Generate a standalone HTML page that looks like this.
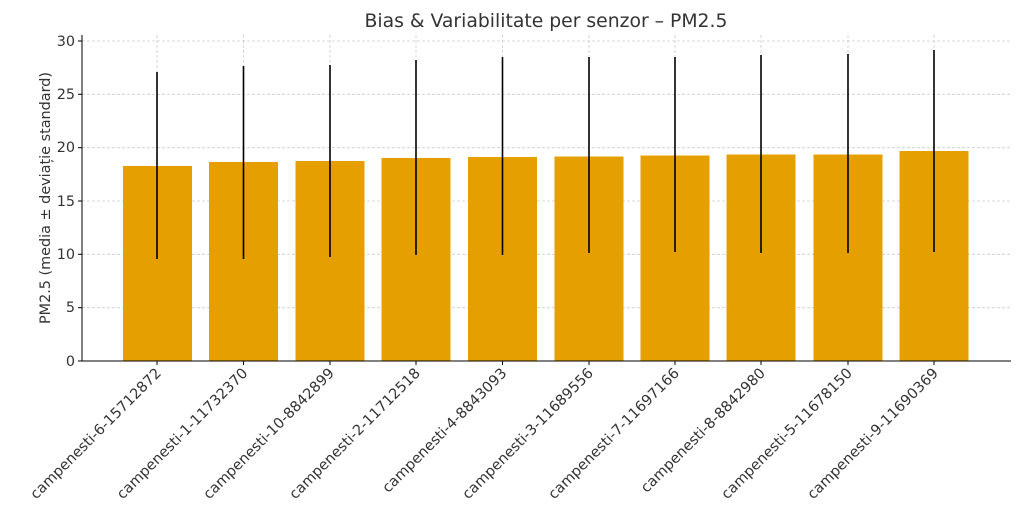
<!DOCTYPE html>
<html><head><meta charset="utf-8"><style>body{margin:0;background:#fff}svg{display:block}</style></head><body>
<svg width="1024" height="512" xmlns="http://www.w3.org/2000/svg" font-family="DejaVu Sans, sans-serif">
<rect width="1024" height="512" fill="#fff"/>
<text x="546" y="27" text-anchor="middle" font-size="18.8" fill="#333">Bias &amp; Variabilitate per senzor – PM2.5</text>
<g stroke="#ccc" stroke-width="0.8" stroke-dasharray="3,2">
<line x1="82" x2="1011" y1="41" y2="41"/><line x1="82" x2="1011" y1="94.3" y2="94.3"/><line x1="82" x2="1011" y1="147.7" y2="147.7"/><line x1="82" x2="1011" y1="201" y2="201"/><line x1="82" x2="1011" y1="254.3" y2="254.3"/><line x1="82" x2="1011" y1="307.7" y2="307.7"/>
<line x1="157" x2="157" y1="35" y2="361"/><line x1="243.5" x2="243.5" y1="35" y2="361"/><line x1="330" x2="330" y1="35" y2="361"/><line x1="416" x2="416" y1="35" y2="361"/><line x1="502.5" x2="502.5" y1="35" y2="361"/><line x1="589" x2="589" y1="35" y2="361"/><line x1="675" x2="675" y1="35" y2="361"/><line x1="761" x2="761" y1="35" y2="361"/><line x1="848" x2="848" y1="35" y2="361"/><line x1="934" x2="934" y1="35" y2="361"/>
</g>
<g fill="#e5a000">
<rect x="123" y="166" width="69" height="195"/><rect x="209" y="162" width="69" height="199"/><rect x="295.5" y="161" width="69" height="200"/><rect x="381.5" y="158" width="69" height="203"/><rect x="468" y="157" width="69" height="204"/><rect x="554.5" y="156.5" width="69" height="204.5"/><rect x="640.5" y="155.5" width="69" height="205.5"/><rect x="726.5" y="154.5" width="69" height="206.5"/><rect x="813.5" y="154.5" width="69" height="206.5"/><rect x="899.5" y="151" width="69" height="210"/>
</g>
<g stroke="#000" stroke-width="1.6">
<line x1="157" x2="157" y1="72" y2="259"/><line x1="243.5" x2="243.5" y1="66" y2="259"/><line x1="330" x2="330" y1="65" y2="257"/><line x1="416" x2="416" y1="60" y2="255"/><line x1="502.5" x2="502.5" y1="57" y2="255"/><line x1="589" x2="589" y1="57" y2="253"/><line x1="675" x2="675" y1="57" y2="252"/><line x1="761" x2="761" y1="55" y2="253"/><line x1="848" x2="848" y1="54" y2="253"/><line x1="934" x2="934" y1="50" y2="252"/>
</g>
<g stroke="#000" stroke-width="1">
<line x1="82" x2="82" y1="35" y2="361"/><line x1="82" x2="1011" y1="361" y2="361"/>
<line x1="78" x2="82" y1="41" y2="41"/><line x1="78" x2="82" y1="94.3" y2="94.3"/><line x1="78" x2="82" y1="147.7" y2="147.7"/><line x1="78" x2="82" y1="201" y2="201"/><line x1="78" x2="82" y1="254.3" y2="254.3"/><line x1="78" x2="82" y1="307.7" y2="307.7"/><line x1="78" x2="82" y1="361" y2="361"/>
<line x1="157" x2="157" y1="361" y2="365"/><line x1="243.5" x2="243.5" y1="361" y2="365"/><line x1="330" x2="330" y1="361" y2="365"/><line x1="416" x2="416" y1="361" y2="365"/><line x1="502.5" x2="502.5" y1="361" y2="365"/><line x1="589" x2="589" y1="361" y2="365"/><line x1="675" x2="675" y1="361" y2="365"/><line x1="761" x2="761" y1="361" y2="365"/><line x1="848" x2="848" y1="361" y2="365"/><line x1="934" x2="934" y1="361" y2="365"/>
</g>
<g font-size="14.4" fill="#333" text-anchor="end">
<text x="75" y="46">30</text><text x="75" y="99">25</text><text x="75" y="152">20</text><text x="75" y="206">15</text><text x="75" y="259">10</text><text x="75" y="312">5</text><text x="75" y="366">0</text>
</g>
<text transform="translate(50,198) rotate(-90)" text-anchor="middle" font-size="14.4" fill="#333">PM2.5 (media ± deviație standard)</text>
<g font-size="14.5" fill="#333" text-anchor="end">
<text transform="translate(162,374) rotate(-45)">campenesti-6-15712872</text>
<text transform="translate(248.5,374) rotate(-45)">campenesti-1-11732370</text>
<text transform="translate(335,374) rotate(-45)">campenesti-10-8842899</text>
<text transform="translate(421,374) rotate(-45)">campenesti-2-11712518</text>
<text transform="translate(507.5,374) rotate(-45)">campenesti-4-8843093</text>
<text transform="translate(594,374) rotate(-45)">campenesti-3-11689556</text>
<text transform="translate(680,374) rotate(-45)">campenesti-7-11697166</text>
<text transform="translate(766,374) rotate(-45)">campenesti-8-8842980</text>
<text transform="translate(853,374) rotate(-45)">campenesti-5-11678150</text>
<text transform="translate(939,374) rotate(-45)">campenesti-9-11690369</text>
</g>
</svg>
</body></html>
